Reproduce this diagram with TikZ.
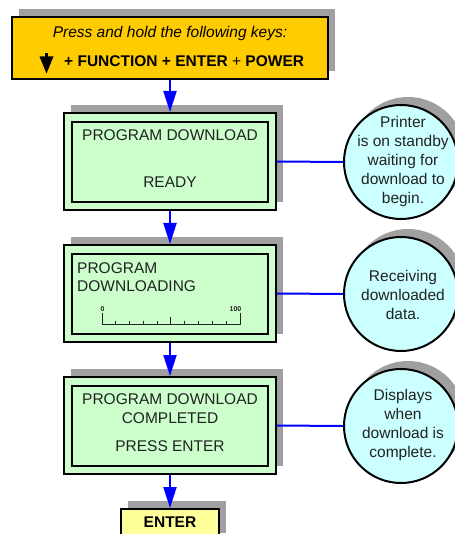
\documentclass[tikz,border=0pt]{standalone}
\usepackage{fontspec}
\setmainfont{Liberation Sans}
\usetikzlibrary{arrows.meta,shadows}
\definecolor{shadowgray}{HTML}{A0A0A0}
\definecolor{topyellow}{HTML}{FFCC00}
\definecolor{lcdgreen}{HTML}{CCFFCC}
\definecolor{notecyan}{HTML}{CCFFFF}
\definecolor{enteryellow}{HTML}{FFFF99}
\definecolor{flowblue}{HTML}{0000FF}
\definecolor{lcdtext}{HTML}{222222}
\begin{document}
\begin{tikzpicture}[x=1pt,y=-1pt,
  shadowed/.style={drop shadow={shadow xshift=7pt,shadow yshift=8pt,fill=shadowgray,opacity=1}},
  lcd/.style={draw=black,line width=2pt,fill=lcdgreen,minimum width=212pt,minimum height=97pt,inner sep=0pt,shadowed},
  lcdinner/.style={draw=black,line width=2pt,minimum width=196pt,minimum height=80pt,inner sep=0pt},
  note/.style={circle,draw=black,line width=2pt,fill=notecyan,minimum size=114pt,inner sep=0pt,shadowed},
  notetxt/.style={inner sep=0pt,align=center,text=lcdtext,font=\fontsize{15.5}{19}\selectfont},
  txt/.style={inner sep=0pt,text=lcdtext,font=\fontsize{15.5}{19}\selectfont},
  flow/.style={draw=flowblue,line width=2pt,-{Triangle[length=21pt,width=13pt]}},
  link/.style={draw=flowblue,line width=2pt},
  tick/.style={draw=lcdtext,line width=1pt},
]
\useasboundingbox (0,0) rectangle (454,534);

% top instruction box
\node[draw=black,line width=2pt,fill=topyellow,minimum width=316pt,minimum height=62pt,inner sep=0pt,shadowed] (top) at (170,48) {};
\node[txt,text=black,anchor=base,font=\fontsize{15.5}{19}\selectfont\itshape] (toptxt) at (170,38) {Press and hold the following keys:};
\node[txt,text=black,anchor=base west,font=\fontsize{15.5}{19}\selectfont\bfseries] (keys) at (64,67) {+ FUNCTION + ENTER {\mdseries +} POWER};
\fill[black] (44.6,53) rectangle (48.4,58);
\fill[black] (39.5,56.5) -- (53.5,56.5) -- (46.5,73.5) -- cycle;

% LCD 1
\node[lcd] (b1) at (170,161.5) {};
\node[lcdinner] (b1i) at (170,162) {};
\node[txt,anchor=base] (b1a) at (170,141) {PROGRAM DOWNLOAD};
\node[txt,anchor=base] (b1b) at (170,188) {READY};

% LCD 2
\node[lcd] (b2) at (170,293.5) {};
\node[lcdinner] (b2i) at (170,294) {};
\node[txt,anchor=base west] (b2a) at (77,273) {PROGRAM};
\node[txt,anchor=base west] (b2b) at (77,291) {DOWNLOADING};
\draw[tick] (102,313) -- (102,324) -- (240,324) -- (240,313);
\draw[tick] (170,317) -- (170,324);
\foreach \i in {1,2,3,4,6,7,8,9} { \draw[tick] ({102+\i*13.8},324) -- ++(0,-3.5); }
\node[inner sep=0pt,anchor=south west,text=lcdtext,font=\fontsize{7}{7}\selectfont\bfseries] (p0) at (100.5,312) {0};
\node[inner sep=0pt,anchor=south east,text=lcdtext,font=\fontsize{7}{7}\selectfont\bfseries] (p100) at (241.5,312) {100};

% LCD 3
\node[lcd] (b3) at (170,425.5) {};
\node[lcdinner] (b3i) at (170,426) {};
\node[txt,anchor=base] (b3a) at (170,404) {PROGRAM DOWNLOAD};
\node[txt,anchor=base] (b3b) at (170,423) {COMPLETED};
\node[txt,anchor=base] (b3c) at (170,451) {PRESS ENTER};

% ENTER key
\node[draw=black,line width=2pt,fill=enteryellow,minimum width=98pt,minimum height=32pt,inner sep=0pt,shadowed] (enter) at (170,525) {};
\node[txt,text=black,anchor=base,font=\fontsize{15.5}{19}\selectfont\bfseries] (entertxt) at (170,527) {ENTER};

% notes
\node[note] (c1) at (401,162) {};
\node[notetxt] (c1t) at (403,161) {Printer\\is on standby\\waiting for\\download to\\begin.};
\node[note] (c2) at (401,294) {};
\node[notetxt] (c2t) at (403,295) {Receiving\\downloaded\\data.};
\node[note] (c3) at (401,426) {};
\node[notetxt] (c3t) at (403,425) {Displays\\when\\download is\\complete.};

% connectors
\draw[flow] (top.south) -- (b1.north);
\draw[flow] (b1.south) -- (b2.north);
\draw[flow] (b2.south) -- (b3.north);
\draw[flow] (b3.south) -- (enter.north);
\draw[link] (b1.east) -- (c1.west);
\draw[link] (b2.east) -- (c2.west);
\draw[link] (b3.east) -- (c3.west);
\end{tikzpicture}
\end{document}
